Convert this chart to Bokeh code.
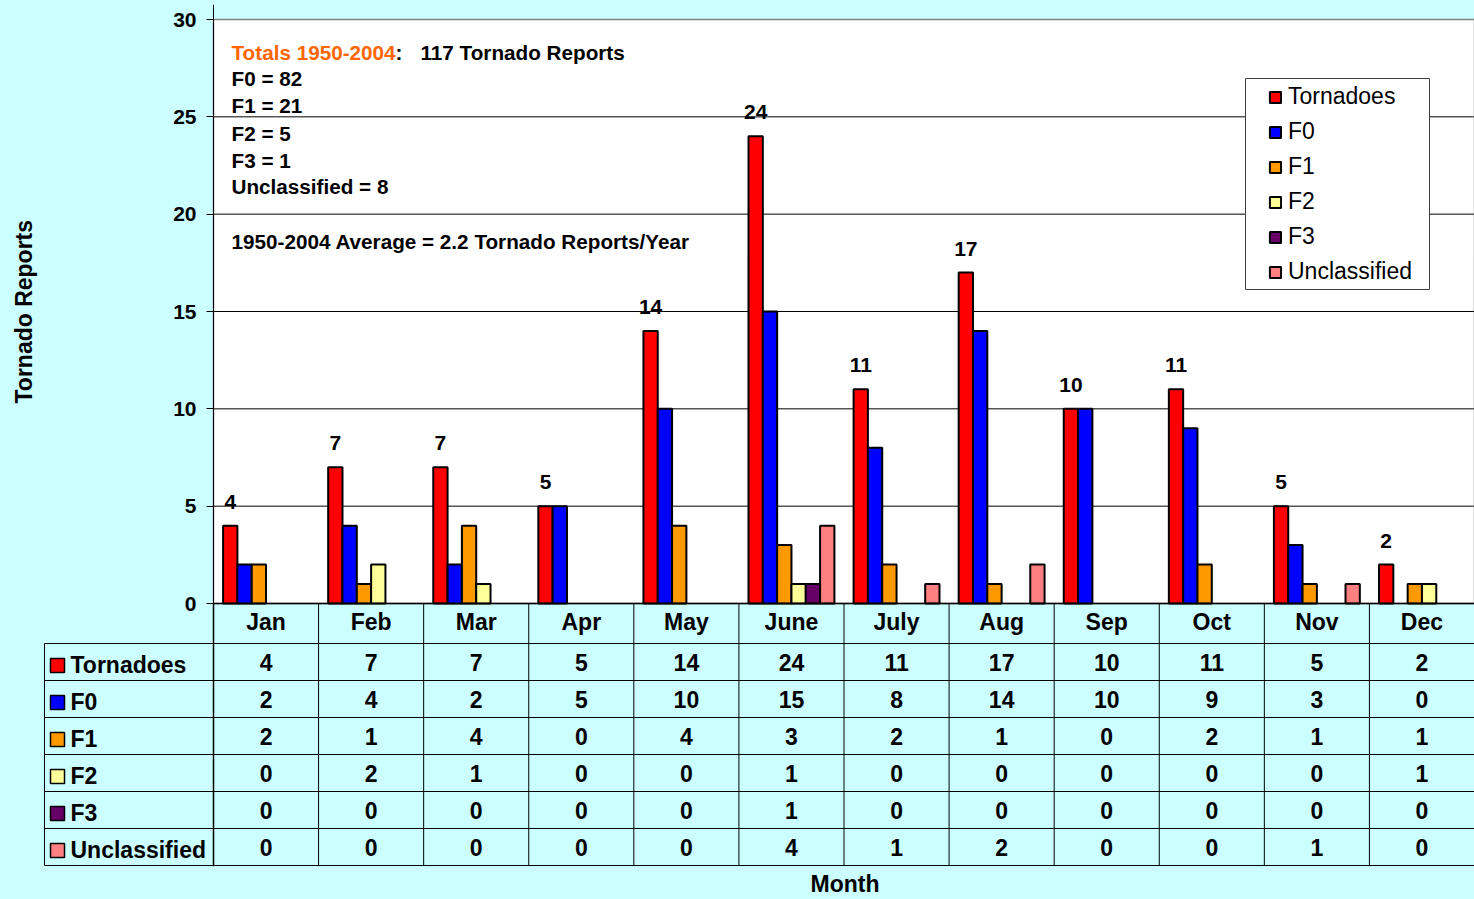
import numpy as np
from bokeh.plotting import figure
from bokeh.models import (Range1d, FixedTicker, Legend, LegendItem, Label, Title,
                          BoxAnnotation, ColumnDataSource, GlobalInlineStyleSheet)
from bokeh.core.properties import value
from bokeh.embed import file_html
from bokeh.resources import INLINE

# ---------------- data ----------------
months = ["Jan", "Feb", "Mar", "Apr", "May", "June", "July", "Aug", "Sep", "Oct", "Nov", "Dec"]
series_names = ["Tornadoes", "F0", "F1", "F2", "F3", "Unclassified"]
tornadoes = [4, 7, 7, 5, 14, 24, 11, 17, 10, 11, 5, 2]
f0 = [2, 4, 2, 5, 10, 15, 8, 14, 10, 9, 3, 0]
f1 = [2, 1, 4, 0, 4, 3, 2, 1, 0, 2, 1, 1]
f2 = [0, 2, 1, 0, 0, 1, 0, 0, 0, 0, 0, 1]
f3 = [0, 0, 0, 0, 0, 1, 0, 0, 0, 0, 0, 0]
unclassified = [0, 0, 0, 0, 0, 4, 1, 2, 0, 0, 1, 0]
y_ticks = [0, 5, 10, 15, 20, 25, 30]
totals_title = "Totals 1950-2004"
totals_text = "117 Tornado Reports"
note_lines = ["F0 = 82", "F1 = 21", "F2 = 5", "F3 = 1", "Unclassified = 8"]
avg_line = "1950-2004 Average = 2.2 Tornado Reports/Year"

series = [tornadoes, f0, f1, f2, f3, unclassified]
colors = ["#FF0000", "#0000FF", "#FF9900", "#FFFF99", "#660066", "#FF8080"]

# ---------------- layout constants (pixels of the 1474x899 page) ----------------
FONT = "Liberation Sans"
BG = "#CCFFFF"
W, H = 1474, 899
LEFT, TOP, BOTTOM = 43, 4, 866           # frame edges
AXIS_X, ZERO_Y, PLOT_TOP = 213, 603, 19  # chart origin and top of plot area
CAT_W = (W - AXIS_X) / 12.0              # px per month
UNIT_H = (ZERO_Y - PLOT_TOP) / 30.0      # px per report
BAR_W = 1 / 7.34
HDR_PX, ROW_PX = 40.0, 37.0


def dx(px):
    return (px - AXIS_X) / CAT_W


def dy(py):
    return (ZERO_Y - py) / UNIT_H


def row_y(r, frac=0.5):
    return dy(ZERO_Y + HDR_PX + ROW_PX * (r + frac))


idx = np.arange(len(months))

p = figure(frame_width=W - LEFT, frame_height=BOTTOM - TOP,
           x_range=Range1d(dx(LEFT), 12), y_range=Range1d(dy(BOTTOM), dy(TOP)),
           output_backend="svg", toolbar_location=None, title=None,
           min_border_left=LEFT, min_border_right=0, min_border_top=TOP,
           min_border_bottom=H - BOTTOM,
           background_fill_color=BG, border_fill_color=BG, outline_line_color=None)
p.xgrid.visible = False
p.ygrid.visible = False
p.xaxis.visible = False

# plot area
p.quad(left=[0], right=[12], bottom=[0], top=[30], fill_color="white",
       line_color=None, level="underlay")
p.segment(x0=[0] * len(y_ticks), x1=[12] * len(y_ticks), y0=y_ticks, y1=y_ticks,
          line_color="black", line_width=1, level="underlay")
p.quad(left=[0], right=[12], bottom=[0], top=[30], fill_alpha=0,
       line_color="#808080", line_width=1.5, level="underlay")

# bars
renderers = []
for j, (vals, col) in enumerate(zip(series, colors)):
    v = np.array(vals)
    xs = idx + 0.5 + (j - 2.5) * BAR_W
    m = v > 0
    src = ColumnDataSource(dict(x=xs[m], top=v[m]))
    r = p.vbar(x="x", top="top", bottom=0, width=BAR_W, source=src,
               fill_color=col, line_color="black", line_width=2)
    renderers.append(r)

red_x = idx + 0.5 - 2.5 * BAR_W
p.text(x=red_x, y=tornadoes, text=[str(v) for v in tornadoes],
       text_align="center", text_baseline="alphabetic", y_offset=-24,
       text_font=value(FONT), text_font_style="bold", text_font_size="21px",
       text_color="black")

# chart y axis at the origin
yax = p.yaxis[0]
yax.fixed_location = 0
yax.ticker = FixedTicker(ticks=y_ticks)
yax.major_tick_out = 7
yax.major_tick_in = 0
yax.minor_tick_line_color = None
yax.major_tick_line_color = "black"
yax.axis_line_color = "black"
yax.major_label_text_font = FONT
yax.major_label_text_font_size = "21px"
yax.major_label_text_font_style = "bold"
yax.major_label_text_color = "black"
yax.major_label_standoff = 10

p.add_layout(Title(text="Tornado Reports", align="left", offset=BOTTOM - 403,
                   text_font=FONT, text_font_size="23px", text_font_style="bold",
                   text_color="black", standoff=13), "left")
p.add_layout(Title(text="Month", align="left", offset=810 - LEFT,
                   text_font=FONT, text_font_size="23px", text_font_style="bold",
                   text_color="black", standoff=4), "below")

# notes
lab = dict(text_font=FONT, text_font_size="20.7px", text_font_style="bold",
           text_baseline="alphabetic")
p.add_layout(Label(x=dx(231), y=dy(52), text=totals_title, text_color="#FF6600", **lab))
p.add_layout(Label(x=dx(395), y=dy(52), text=":", text_color="black", **lab))
p.add_layout(Label(x=dx(420), y=dy(52), text=totals_text, text_color="black", **lab))
for line, base in zip(note_lines, [78, 105, 133, 160, 186]):
    p.add_layout(Label(x=dx(231), y=dy(base), text=line, text_color="black", **lab))
p.add_layout(Label(x=dx(231), y=dy(241), text=avg_line, text_color="black", **lab))

# chart legend
p.add_layout(BoxAnnotation(left=dx(1245), right=dx(1429), top=dy(78), bottom=dy(289),
                           fill_color="white", fill_alpha=1.0,
                           line_color="#404040", line_width=1, line_alpha=1.0))
legend = Legend(items=[LegendItem(label=n, renderers=[r]) for n, r in zip(series_names, renderers)],
                location=(1263 - LEFT, BOTTOM - 290), padding=5, spacing=8, margin=0,
                glyph_width=14, glyph_height=14, label_height=26, label_standoff=6,
                label_text_font=FONT, label_text_font_size="23px", label_text_color="black",
                border_line_alpha=0, background_fill_alpha=0)
p.add_layout(legend)

# ---------------- data table ----------------
nrows = len(series_names)
row_edges = [row_y(r, 0.0) for r in range(nrows + 1)]
table_bottom = row_edges[-1]
p.segment(x0=[dx(44)] * len(row_edges), x1=[12] * len(row_edges), y0=row_edges, y1=row_edges,
          line_color="black", line_width=1)
p.segment(x0=list(idx[1:]) + [dx(44)], x1=list(idx[1:]) + [dx(44)],
          y0=[0] * (len(idx) - 1) + [row_edges[0]], y1=[table_bottom] * len(idx),
          line_color="black", line_width=1)
p.segment(x0=[0, 0], x1=[12, 0], y0=[0, 0], y1=[0, table_bottom],
          line_color="black", line_width=1.5)

tfont = dict(text_font=value(FONT), text_font_style="bold", text_font_size="23px",
             text_color="black")
p.text(x=idx + 0.5, y=[dy(ZERO_Y + HDR_PX / 2)] * len(months), text=months,
       text_align="center", text_baseline="middle", y_offset=-2, **tfont)

cx, cy, ct = [], [], []
for r, vals in enumerate(series):
    for i, v in enumerate(vals):
        cx.append(i + 0.5)
        cy.append(row_y(r))
        ct.append(str(v))
p.text(x=cx, y=cy, text=ct, text_align="center", text_baseline="middle", y_offset=0, **tfont)

ry = [row_y(r) for r in range(nrows)]
p.scatter(x=[dx(57)] * nrows, y=[row_y(r, 0.5 + 3.5 / ROW_PX) for r in range(nrows)],
          marker="square", size=14, fill_color=colors, line_color="black", line_width=1.5)
p.text(x=[dx(70)] * nrows, y=ry, text=series_names, text_align="left",
       text_baseline="middle", y_offset=3, **tfont)

p.stylesheets = [GlobalInlineStyleSheet(css="html, body { background-color: #CCFFFF; }")]

open("out.html", "w").write(file_html(p, INLINE))
